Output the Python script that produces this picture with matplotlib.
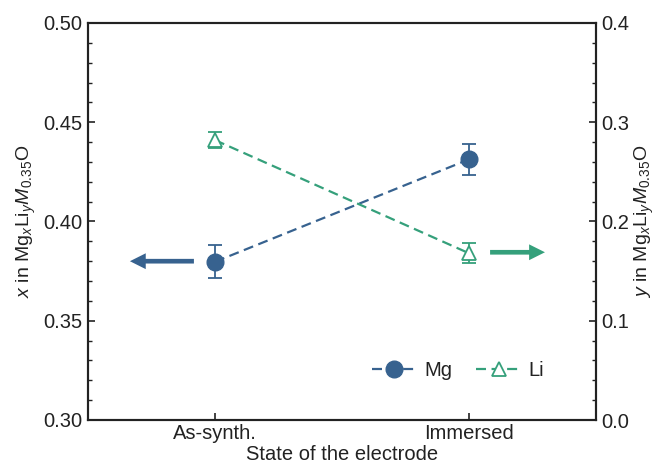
import matplotlib
matplotlib.use("Agg")
import matplotlib.pyplot as plt
from matplotlib.ticker import MultipleLocator, FormatStrFormatter
from matplotlib.lines import Line2D

plt.rcParams['font.family'] = ['Liberation Sans', 'DejaVu Sans']
plt.rcParams['mathtext.fontset'] = 'custom'
plt.rcParams['mathtext.rm'] = 'Liberation Sans'
plt.rcParams['mathtext.it'] = 'Liberation Sans:italic'
plt.rcParams['mathtext.bf'] = 'Liberation Sans:bold'

categories = ["As-synth.", "Immersed"]
mg_values = [0.3797, 0.4313]
mg_err = [0.0083, 0.0078]
li_values = [0.282, 0.168]
li_err = [0.008, 0.010]

blue = '#37628f'
green = '#35a07b'
txt = '#222222'
FS = 14.5

fig = plt.figure(figsize=(6.6, 4.68), dpi=100)
ax = fig.add_axes([88/660, 1-420/468, (596-88)/660, (420-23)/468])
ax2 = ax.twinx()

xpos = list(range(len(categories)))
dash = (0, (4.5, 2.5))

ax.errorbar(xpos, mg_values, yerr=mg_err, color=blue, ls=dash, lw=1.6,
            marker='o', ms=12, mfc=blue, mec=blue, capsize=5, elinewidth=1.3,
            capthick=1.3, zorder=3)
ax2.errorbar(xpos, li_values, yerr=li_err, color=green, ls=dash, lw=1.6,
             marker='^', ms=10, mfc='white', mec=green, mew=1.3, capsize=5,
             elinewidth=1.3, capthick=1.3, zorder=3)

ax.set_xlim(-0.5, 1.5)
ax.set_ylim(0.30, 0.50)
ax2.set_ylim(0.0, 0.4)

ax.set_xticks(xpos)
ax.set_xticklabels(categories)
ax.yaxis.set_major_locator(MultipleLocator(0.05))
ax.yaxis.set_minor_locator(MultipleLocator(0.01))
ax.yaxis.set_major_formatter(FormatStrFormatter('%.2f'))
ax2.yaxis.set_major_locator(MultipleLocator(0.1))
ax2.yaxis.set_minor_locator(MultipleLocator(0.02))
ax2.yaxis.set_major_formatter(FormatStrFormatter('%.1f'))

for a in (ax, ax2):
    a.tick_params(which='major', direction='in', length=5, width=1.2, labelsize=FS,
                  colors=txt, pad=4)
    a.tick_params(which='minor', direction='in', length=3, width=1.0, colors=txt)
    for s in a.spines.values():
        s.set_linewidth(1.5)
        s.set_color(txt)
ax.tick_params(axis='x', which='both', top=False, pad=3)
ax.tick_params(axis='y', which='both', right=False)

ax.set_xlabel('State of the electrode', fontsize=FS, labelpad=1, color=txt)
ax.set_ylabel(r'$x$ in Mg$_x$Li$_y$$M_{0.35}$O', fontsize=14, labelpad=4, color=txt)
ax2.set_ylabel(r'$y$ in Mg$_x$Li$_y$$M_{0.35}$O', fontsize=14, labelpad=2, color=txt)

astyle = 'simple,head_length=0.95,head_width=0.95,tail_width=0.28'
ax.annotate('', xy=(-0.335, 0.380), xytext=(-0.083, 0.380),
            arrowprops=dict(arrowstyle=astyle, color=blue, lw=0, mutation_scale=12,
                            shrinkA=0, shrinkB=0))
ax2.annotate('', xy=(1.299, 0.169), xytext=(1.083, 0.169),
             arrowprops=dict(arrowstyle=astyle, color=green, lw=0, mutation_scale=12,
                             shrinkA=0, shrinkB=0))

handles = [
    Line2D([], [], color=blue, ls=dash, lw=1.6, marker='o', ms=12, mfc=blue, mec=blue),
    Line2D([], [], color=green, ls=dash, lw=1.6, marker='^', ms=10, mfc='white',
           mec=green, mew=1.3),
]
ax2.legend(handles, ['Mg', 'Li'], loc='lower right', ncol=2, frameon=False, fontsize=FS,
           handlelength=2.2, columnspacing=1.2, handletextpad=0.4,
           bbox_to_anchor=(0.934, 0.055), labelcolor=txt)

fig.savefig('out.png', dpi=100)
